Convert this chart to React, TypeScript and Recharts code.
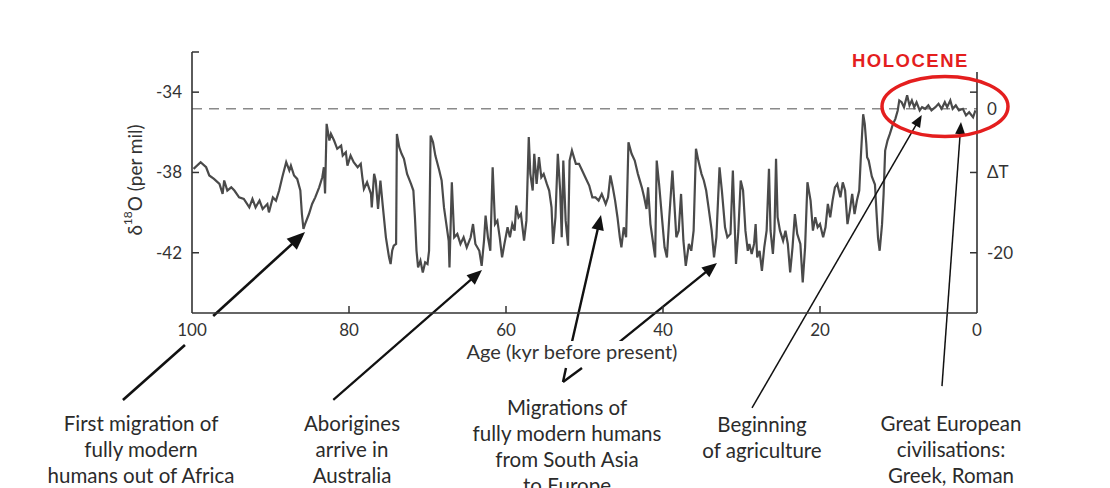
import { LineChart, Line, XAxis, YAxis, ReferenceLine } from "recharts";

// delta-18O record, age in kyr before present
const ages = [
  99.8, 98.9, 98.2, 97.8, 97.2, 96.5, 96.1, 95.9, 95.5, 95.0, 94.6, 94.0, 93.4, 92.7, 92.3, 91.9, 91.4, 91.0,
  90.4, 90.2, 89.7, 89.3, 88.9, 88.5, 88.0, 87.6, 87.4, 87.0, 86.6, 86.2, 86.0, 85.8, 85.6, 85.1, 84.7, 84.3,
  83.8, 83.4, 83.2, 83.05, 82.85, 82.5, 82.3, 81.9, 81.5, 81.0, 80.8, 80.4, 80.2, 79.8, 79.4, 78.9, 78.5, 78.3,
  78.1, 77.7, 77.2, 77.1, 76.8, 76.6, 76.3, 76.0, 75.7, 75.3, 74.9, 74.7, 74.5, 74.3, 74.0, 73.9, 73.6, 73.3,
  73.0, 72.6, 72.1, 71.8, 71.6, 71.4, 71.2, 70.9, 70.6, 70.3, 70.0, 69.8, 69.6, 69.3, 69.0, 68.5, 68.2, 67.9,
  67.6, 67.3, 67.2, 66.9, 66.6, 66.2, 65.8, 65.4, 65.0, 64.5, 64.2, 63.9, 63.4, 63.1, 62.8, 62.6, 62.3, 62.0,
  61.7, 61.4, 61.1, 60.8, 60.5, 60.2, 59.8, 59.5, 59.2, 58.9, 58.7, 58.4, 58.1, 57.7, 57.4, 57.1, 56.9, 56.6,
  56.4, 56.1, 55.8, 55.5, 55.2, 54.8, 54.5, 54.2, 54.0, 53.7, 53.4, 53.1, 52.9, 52.7, 52.4, 52.1, 51.9, 51.6,
  51.1, 50.7, 50.3, 49.9, 49.4, 49.0, 48.6, 48.2, 47.8, 47.3, 47.0, 46.7, 46.4, 46.1, 45.8, 45.5, 45.3, 45.0,
  44.7, 44.4, 44.0, 43.6, 43.2, 42.7, 42.4, 42.1, 41.9, 41.6, 41.3, 41.0, 40.8, 40.5, 40.1, 39.8, 39.5, 39.2,
  38.8, 38.6, 38.3, 38.0, 37.7, 37.4, 37.1, 36.7, 36.4, 36.1, 35.8, 35.5, 35.1, 34.8, 34.5, 34.2, 33.8, 33.5,
  33.2, 32.8, 32.5, 32.1, 31.8, 31.4, 31.1, 30.9, 30.7, 30.4, 30.1, 29.8, 29.5, 29.2, 29.0, 28.7, 28.4, 28.2,
  28.0, 27.7, 27.4, 27.1, 26.8, 26.5, 26.3, 26.0, 25.8, 25.6, 25.4, 25.1, 24.7, 24.4, 24.1, 23.8, 23.5, 23.2,
  22.9, 22.5, 22.2, 21.9, 21.6, 21.2, 20.9, 20.6, 20.3, 20.0, 19.6, 19.3, 19.0, 18.7, 18.4, 18.1, 17.8, 17.4,
  17.1, 16.8, 16.5, 16.2, 15.9, 15.6, 15.3, 15.0, 14.8, 14.5, 14.3, 14.1, 14.0, 13.8, 13.4, 13.0, 12.8, 12.6,
  12.4, 12.1, 11.9, 11.7, 11.4, 11.1, 10.7, 10.4, 10.1, 9.9, 9.6, 9.3, 8.9, 8.6, 8.3, 8.0, 7.7, 7.3,
  7.0, 6.6, 6.2, 5.8, 5.3, 4.9, 4.5, 4.1, 3.8, 3.4, 3.1, 2.7, 2.3, 1.8, 1.4, 1.0, 0.5, 0.2,
];

const d18o = [
  -37.82, -37.49, -37.74, -38.15, -38.32, -38.57, -39.07, -38.4, -38.9, -38.74, -38.9, -39.24, -39.32, -39.74, -39.32, -39.74, -39.4, -39.82,
  -39.57, -39.99, -39.24, -39.4, -38.9, -38.24, -37.49, -37.9, -37.66, -38.15, -38.32, -38.9, -40.07, -40.81, -40.57, -40.07, -39.57, -39.24,
  -38.74, -38.24, -37.74, -39.05, -35.58, -36.41, -36.08, -36.41, -36.82, -36.66, -37.16, -36.99, -37.66, -37.16, -37.49, -37.74, -37.57, -38.24,
  -38.82, -38.49, -39.07, -39.74, -38.07, -38.4, -39.82, -38.4, -39.65, -41.23, -42.23, -42.56, -41.9, -41.65, -41.56, -36.08, -36.74, -37.07,
  -37.32, -38.07, -38.57, -38.9, -40.23, -41.9, -42.73, -42.39, -42.98, -42.48, -42.56, -41.9, -36.16, -36.49, -37.16, -37.9, -38.4, -39.74,
  -40.57, -41.4, -42.73, -38.49, -41.23, -41.06, -41.56, -41.23, -41.73, -41.23, -40.57, -41.56, -41.9, -42.65, -41.4, -40.15, -41.23, -41.9,
  -37.74, -40.57, -40.4, -41.23, -42.23, -41.56, -40.73, -41.23, -40.57, -40.9, -39.65, -40.23, -40.07, -41.4, -40.4, -36.24, -38.07, -38.9,
  -37.07, -38.57, -37.24, -38.24, -38.07, -38.57, -38.9, -39.74, -41.56, -40.23, -37.07, -38.9, -41.23, -37.41, -40.4, -41.65, -37.41, -36.91,
  -37.57, -37.57, -37.9, -38.24, -38.65, -39.24, -39.24, -39.4, -39.07, -39.57, -39.24, -38.15, -38.74, -39.4, -40.23, -41.23, -41.73, -40.73,
  -41.23, -36.5, -37.07, -37.41, -38.07, -38.74, -39.24, -39.82, -38.74, -40.57, -41.4, -42.23, -37.41, -38.57, -40.4, -41.73, -42.23, -40.23,
  -37.9, -39.24, -41.23, -40.9, -39.07, -41.4, -42.65, -41.56, -41.9, -40.9, -36.82, -37.41, -38.07, -38.4, -38.9, -39.74, -40.9, -42.23,
  -41.23, -37.74, -38.9, -40.73, -41.23, -41.06, -37.9, -40.23, -42.56, -40.9, -38.4, -38.9, -40.9, -41.9, -41.56, -42.06, -41.56, -40.57,
  -42.23, -41.9, -42.9, -41.73, -40.9, -37.82, -40.9, -42.06, -40.9, -37.32, -40.23, -40.9, -41.4, -40.9, -41.56, -42.98, -41.73, -40.07,
  -41.06, -41.56, -43.48, -41.73, -38.49, -39.4, -40.9, -40.23, -40.73, -40.57, -41.23, -40.73, -39.57, -40.23, -39.4, -38.74, -38.57, -39.24,
  -38.49, -38.9, -40.57, -39.9, -39.07, -40.07, -39.4, -38.9, -37.24, -35.1, -35.58, -36.57, -37.24, -37.4, -38.2, -38.6, -40.0, -41.3,
  -41.9, -40.6, -39.1, -36.91, -36.41, -36.08, -35.58, -35.33, -34.91, -34.41, -34.5, -34.75, -34.16, -34.66, -34.41, -34.75, -34.5, -34.91,
  -34.75, -34.83, -34.66, -34.91, -34.75, -34.58, -34.83, -34.5, -34.75, -34.41, -34.83, -34.66, -34.91, -34.83, -35.16, -35.0, -35.25, -34.91,
];

const xTicks = [100, 80, 60, 40, 20, 0];
const leftTicks = [-32, -34, -38, -42];
const leftTickLabels = ["", "-34", "-38", "-42"];
const holoceneLevel = -34.83;
const rightTicks = [-34, holoceneLevel, -38, -42];
const rightTickLabels = ["", "0", "ΔT", "-20"];
const rightTickMarks = [-34, -38, -42];

// annotation arrows in (age, d18O); pieces skip over text
const arrowFrom = [
  [108.8, -49.33], [97.3, -45.15], [82.0, -49.33], [52.74, -48.44], [51.6, -46.44],
  [52.74, -48.44], [45.7, -46.49], [28.66, -49.73], [4.46, -48.64],
];
const arrowTo = [
  [100.9, -46.59], [85.6, -40.97], [63.06, -42.86], [52.36, -47.74], [47.9, -40.12],
  [50.32, -47.74], [33.12, -42.51], [7.04, -35.14], [2.04, -35.49],
];
const arrowHead = [0, 18, 15, 0, 15, 0, 15, 12, 12];
const arrowWidth = [2.6, 2.6, 2.2, 2.4, 2.4, 2.4, 2.4, 1.5, 1.5];

const data = ages.map((age, i) => ({ age, d18o: d18o[i] }));

const FONT = "Lato, 'Open Sans', sans-serif";
const AXIS = "#333";

const XTick = (p: any) => {
  const { x, y, payload } = p;
  const v = payload.value;
  return (
    <g>
      {v !== 100 && v !== 0 && <line x1={x} x2={x} y1={y} y2={y - 7} stroke={AXIS} strokeWidth={1.5} />}
      <text x={x} y={y + 23} textAnchor="middle" fontSize={17} fill={AXIS} fontFamily={FONT}>
        {v}
      </text>
    </g>
  );
};

const LeftTick = (p: any) => {
  const { x, y, payload } = p;
  const idx = leftTicks.indexOf(payload.value);
  return (
    <g>
      <line x1={x} x2={x + 7} y1={y} y2={y} stroke={AXIS} strokeWidth={1.5} />
      <text x={x - 10} y={y + 6} textAnchor="end" fontSize={17} fill={AXIS} fontFamily={FONT}>
        {leftTickLabels[idx]}
      </text>
    </g>
  );
};

const RightTick = (p: any) => {
  const { x, y, payload } = p;
  const idx = rightTicks.indexOf(payload.value);
  return (
    <g>
      {rightTickMarks.includes(payload.value) && (
        <line x1={x - 7} x2={x} y1={y} y2={y} stroke={AXIS} strokeWidth={1.5} />
      )}
      <text x={x + 10} y={y + 6} textAnchor="start" fontSize={17} fill={AXIS} fontFamily={FONT}>
        {rightTickLabels[idx]}
      </text>
    </g>
  );
};

const arrowShape = (head: number, width: number) => (p: any) => {
  const { x1, y1, x2, y2 } = p;
  if (![x1, y1, x2, y2].every((v) => Number.isFinite(v))) return <g />;
  const dx = x2 - x1;
  const dy = y2 - y1;
  const len = Math.hypot(dx, dy) || 1;
  const ux = dx / len;
  const uy = dy / len;
  const bx = x2 - ux * head;
  const by = y2 - uy * head;
  const hw = head * 0.42;
  const ex = head ? x2 - ux * head * 0.7 : x2;
  const ey = head ? y2 - uy * head * 0.7 : y2;
  return (
    <g>
      <line x1={x1} y1={y1} x2={ex} y2={ey} stroke="#111" strokeWidth={width} />
      {head > 0 && (
        <polygon
          points={`${x2},${y2} ${bx - uy * hw},${by + ux * hw} ${bx + uy * hw},${by - ux * hw}`}
          fill="#111"
        />
      )}
    </g>
  );
};

const bottomLabels = [
  { x: 141, y: 431, lines: ["First migration of", "fully modern", "humans out of Africa"] },
  { x: 352, y: 431, lines: ["Aborigines", "arrive in", "Australia"] },
  { x: 567, y: 415, lines: ["Migrations of", "fully modern humans", "from South Asia", "to Europe"] },
  { x: 762, y: 432, lines: ["Beginning", "of agriculture"] },
  { x: 951, y: 431, lines: ["Great European", "civilisations:", "Greek, Roman"] },
];

export default function App() {
  return (
    <div style={{ position: "absolute", left: 0, top: 0, width: 1110, height: 488, background: "#fff" }}>
      <LineChart width={1110} height={488} data={data} margin={{ top: 52, right: 93, bottom: 145, left: 132 }}>
        <XAxis
          dataKey="age"
          type="number"
          domain={[0, 100]}
          reversed
          ticks={xTicks}
          interval={0}
          allowDataOverflow
          height={30}
          tickSize={0}
          tickMargin={0}
          tick={<XTick />}
          axisLine={{ stroke: AXIS, strokeWidth: 1.6 }}
          tickLine={false}
        />
        <YAxis
          domain={[-45, -32]}
          ticks={leftTicks}
          interval={0}
          allowDataOverflow
          width={60}
          tickSize={0}
          tickMargin={0}
          tick={<LeftTick />}
          axisLine={{ stroke: AXIS, strokeWidth: 1.6 }}
          tickLine={false}
        />
        <YAxis
          yAxisId="right"
          orientation="right"
          domain={[-45, -32]}
          ticks={rightTicks}
          interval={0}
          allowDataOverflow
          width={40}
          tickSize={0}
          tickMargin={0}
          tick={<RightTick />}
          axisLine={false}
          tickLine={false}
        />
        <ReferenceLine y={holoceneLevel} stroke="#8a8a8a" strokeWidth={1.6} strokeDasharray="10 7" />
        <ReferenceLine
          segment={[{ x: 0, y: -45 }, { x: 0, y: -33 }]}
          stroke={AXIS}
          strokeWidth={1.6}
          ifOverflow="visible"
        />
        <Line
          dataKey="d18o"
          stroke="#4a4a4a"
          strokeWidth={2.2}
          dot={false}
          type="linear"
          isAnimationActive={false}
        />
        {arrowFrom.map((f, i) => (
          <ReferenceLine
            key={i}
            segment={[{ x: f[0], y: f[1] }, { x: arrowTo[i][0], y: arrowTo[i][1] }]}
            ifOverflow="visible"
            stroke="#111"
            shape={arrowShape(arrowHead[i], arrowWidth[i])}
          />
        ))}
      </LineChart>
      <svg
        width={1110}
        height={488}
        style={{ position: "absolute", left: 0, top: 0, pointerEvents: "none" }}
        fontFamily={FONT}
      >
        <text
          x={134}
          y={180}
          transform="rotate(-90 134 180)"
          textAnchor="middle"
          dominantBaseline="central"
          fontSize={19}
          fill={AXIS}
        >
          δ<tspan fontSize={12} dy={-7}>18</tspan>
          <tspan dy={7}>O (per mil)</tspan>
        </text>
        <rect x={458} y={341} width={230} height={24} fill="#fff" />
        <text x={572} y={359} textAnchor="middle" fontSize={20} fill={AXIS}>
          Age (kyr before present)
        </text>
        <text
          x={852}
          y={66.5}
          fontSize={18.5}
          fontWeight="bold"
          letterSpacing={1.5}
          fill="#e41e1e"
          fontFamily="'Liberation Sans', Arial, sans-serif"
        >
          HOLOCENE
        </text>
        <ellipse cx={945} cy={106.5} rx={63} ry={30} fill="none" stroke="#e41e1e" strokeWidth={3.5} />
        {bottomLabels.map((b, i) => (
          <text key={i} x={b.x} y={b.y} textAnchor="middle" fontSize={20.5} fill="#2b2b2b">
            {b.lines.map((l, j) => (
              <tspan key={j} x={b.x} dy={j === 0 ? 0 : 26}>
                {l}
              </tspan>
            ))}
          </text>
        ))}
      </svg>
    </div>
  );
}
